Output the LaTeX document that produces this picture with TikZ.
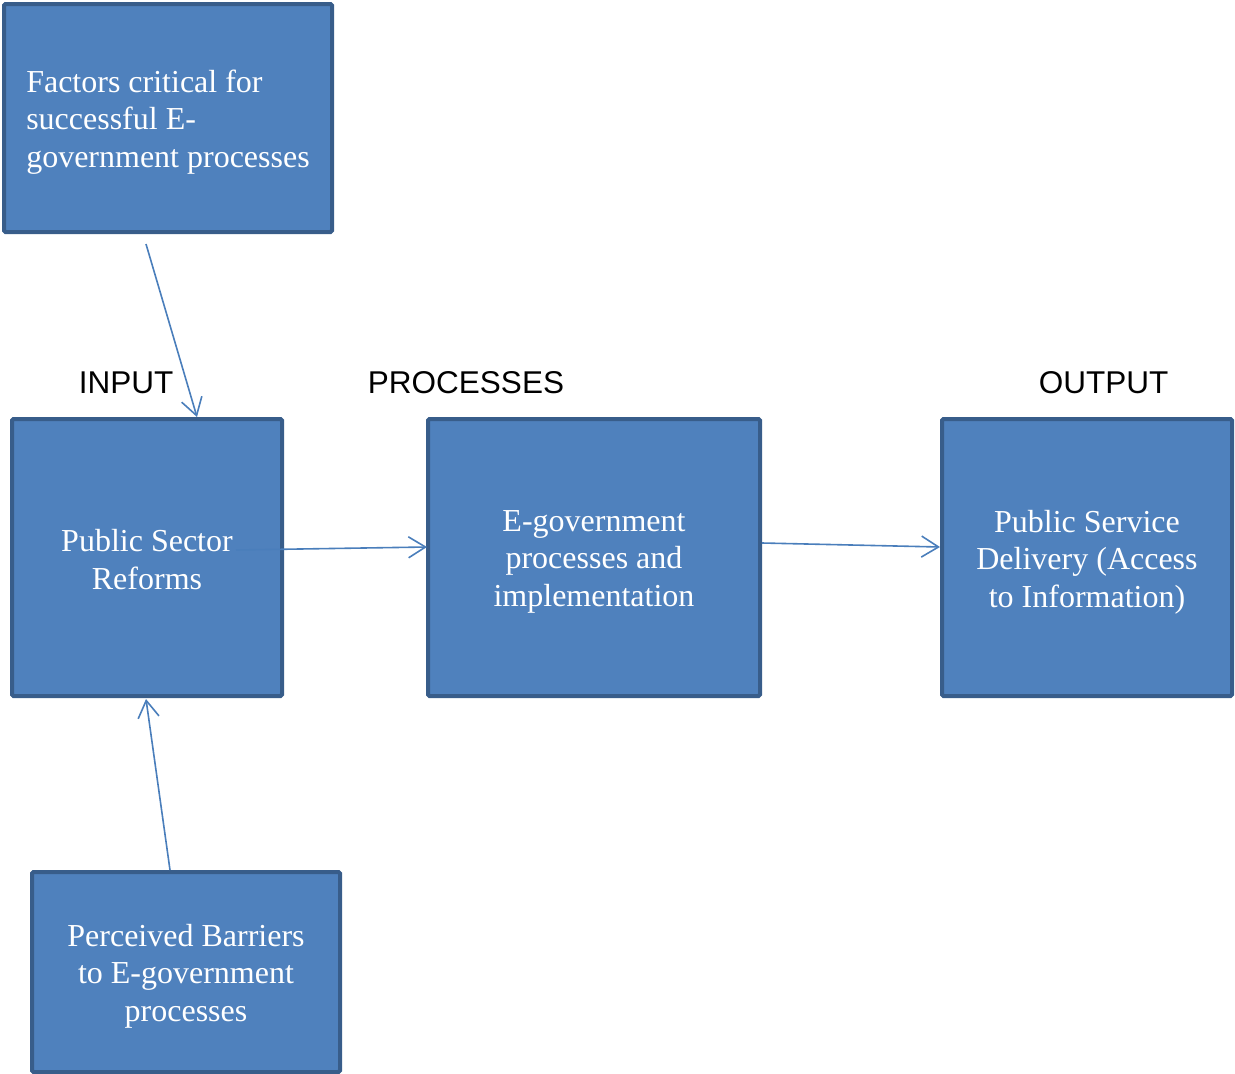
\documentclass[tikz,border=0pt]{standalone}
\usepackage{fontspec}
\setmainfont{Liberation Serif}
\newfontfamily\labelfont{Liberation Sans}
\usetikzlibrary{arrows.meta}
\definecolor{boxfill}{HTML}{4F81BD}
\definecolor{boxline}{HTML}{385D8A}
\definecolor{arrowline}{HTML}{4A7EBB}

\begin{document}
\begin{tikzpicture}[x=1pt,y=-1pt,
  box/.style={draw=boxline, fill=boxfill, line width=4pt, rounded corners=1.5pt,
    inner sep=0pt},
  boxtext/.style={inner sep=0pt, text=white, font=\fontsize{32}{37.5}\selectfont,
    align=center},
  stage/.style={font=\labelfont\fontsize{31.5}{36}\selectfont, text=black,
    inner sep=0pt, anchor=base},
  link/.style={draw=arrowline, line width=1.6pt,
    -{Straight Barb[length=17pt,width=21pt,line width=1.6pt]}}]
\useasboundingbox (0,0) rectangle (1235,1074);

% boxes
\node[box, minimum width=328pt, minimum height=228pt] (factors) at (168,118) {};
\node[box, minimum width=270pt, minimum height=277pt] (reforms) at (147,557.5) {};
\node[box, minimum width=332pt, minimum height=277pt] (egov) at (594,557.5) {};
\node[box, minimum width=290pt, minimum height=277pt] (delivery) at (1087,557.5) {};
\node[box, minimum width=308pt, minimum height=200pt] (barriers) at (186,972) {};

% box texts, set a little below each box centre
\node[boxtext, align=left] (factors-text) at ([yshift=-4pt]factors.center)
  {Factors critical for\\successful E-\\government processes};
\node[boxtext] (reforms-text) at ([yshift=-2pt]reforms.center)
  {Public Sector\\Reforms};
\node[boxtext] (egov-text) at ([yshift=-4pt]egov.center)
  {E-government\\processes and\\implementation};
\node[boxtext] (delivery-text) at ([yshift=-4.5pt]delivery.center)
  {Public Service\\Delivery (Access\\to Information)};
\node[boxtext] (barriers-text) at ([yshift=-4pt]barriers.center)
  {Perceived Barriers\\to E-government\\processes};

% stage labels
\node[stage] (input) at (126,393) {INPUT};
\node[stage] (processes) at (466,393) {PROCESSES};
\node[stage] (output) at (1103.5,393) {OUTPUT};

% connector end points
\coordinate (f-out) at (146,244);
\coordinate (r-in-top) at (197,417);
\coordinate (b-out) at (170,870);
\coordinate (r-in-bottom) at (146,699);
\coordinate (r-out) at (236,550);
\coordinate (e-in) at (427,547);
\coordinate (e-out) at (762,543);
\coordinate (d-in) at (940,547);

% connectors
\draw[link] (f-out) -- (r-in-top);
\draw[link] (b-out) -- (r-in-bottom);
\draw[link] (r-out) -- (e-in);
\draw[link] (e-out) -- (d-in);
\end{tikzpicture}
\end{document}
